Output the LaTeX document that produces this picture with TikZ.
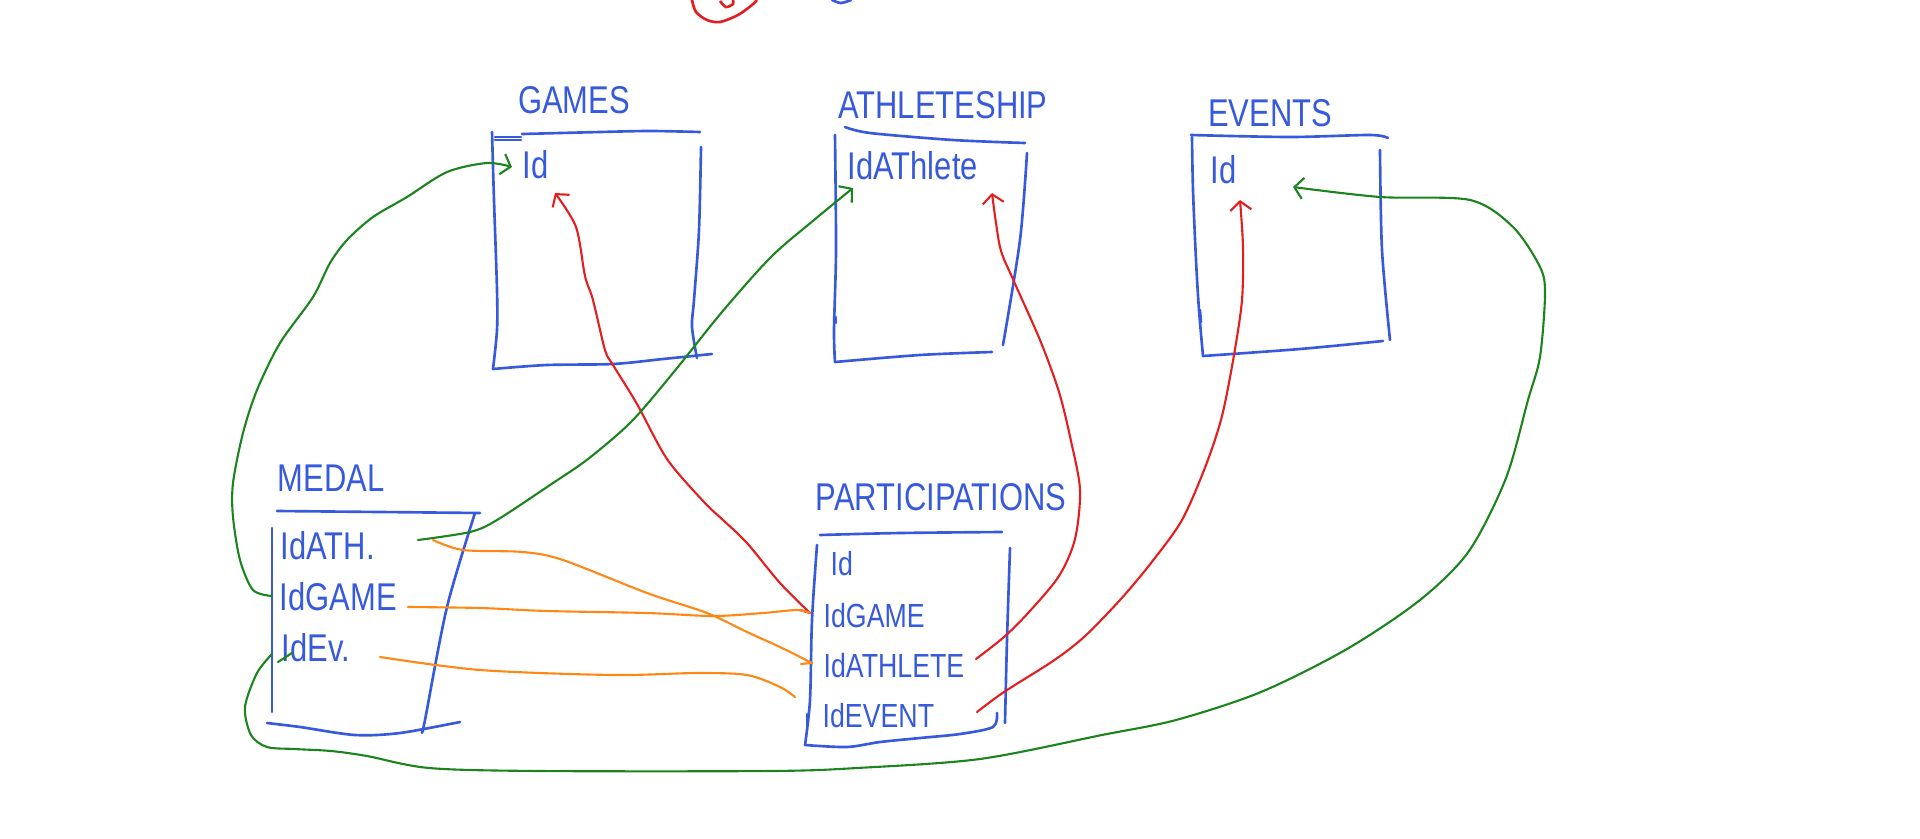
\documentclass[tikz,border=0pt]{standalone}
\usepackage{fontspec}
\setmainfont[FakeStretch=0.8]{Liberation Sans}
\usetikzlibrary{arrows.meta}
\usetikzlibrary{calc}
\definecolor{penblue}{RGB}{55,90,220}
\definecolor{penred}{RGB}{228,30,30}
\definecolor{pengreen}{RGB}{28,132,28}
\definecolor{penorange}{RGB}{255,136,20}

\begin{document}
\begin{tikzpicture}[x=0.01cm,y=-0.01cm,
    ink/.style={penblue, line width=0.75pt, line cap=round, line join=round},
    title/.style={penblue, font=\fontsize{11}{11}\selectfont},
    field/.style={penblue, anchor=west, inner sep=0pt, font=\fontsize{11}{11}\selectfont},
    smallfield/.style={field, font=\fontsize{9.5}{9.5}\selectfont},
    fk/.style={line width=0.6pt, line cap=round, line join=round},
    tip/.style={-{Straight Barb[length=2.5pt,width=6pt]}}]

\useasboundingbox (0,0) rectangle (1920,839);

\draw[penred, line width=0.75pt] plot[smooth] coordinates {(692,0) (696,12) (707,20) (720,22) (738,15) (752,5) (757,0)};
\draw[penred, line width=0.75pt] plot[smooth] coordinates {(720,1) (726,7) (733,4) (733,0)};
\draw[ink] plot[smooth] coordinates {(832,0) (841,3) (851,0)};

\node[title] (games) at (574,100) {GAMES};
\node[title] (athletes) at (943,105) {ATHLETESHIP};
\node[title] (events) at (1270,113) {EVENTS};
\node[title] (medal) at (331,478) {MEDAL};
\node[title] (part) at (941,497) {PARTICIPATIONS};

\foreach \name/\txt/\pos in {gamesid/Id/{(522,165)}, athlid/IdAThlete/{(847,166)},
    eventsid/Id/{(1210,170)}, medalath/IdATH./{(280,546)},
    medalgame/IdGAME/{(279,597)}, medalev/IdEv./{(281,648)}} {
  \node[field] (\name) at \pos {\txt};
}
\foreach \name/\txt/\pos in {partid/Id/{(830,564)}, partgame/IdGAME/{(823,616)},
    partath/IdATHLETE/{(823,666)}, partev/IdEVENT/{(822,716)}} {
  \node[smallfield] (\name) at \pos {\txt};
}

% games
\draw[ink] plot[smooth] coordinates {(522,134) (600,132) (650,131) (700,132)};
\draw[ink] (495,137) -- (521,137);
\draw[ink] (495,140) -- (521,140);
\draw[ink] plot[smooth] coordinates {(492,132) (494,200) (497,290) (497,330) (493,369)};
\draw[ink] plot[smooth] coordinates {(493,369) (547,365) (613,364) (663,359) (712,354)};
\draw[ink] plot[smooth] coordinates {(701,147) (699,230) (694,300) (692,327) (697,358)};

% athleteship
\draw[ink] plot[smooth] coordinates {(845,127) (870,133) (953,140) (1025,143)};
\draw[ink] plot[smooth] coordinates {(835,135) (836,250) (834,330) (835,362)};
\draw[ink] plot[smooth] coordinates {(835,362) (920,355) (992,352)};
\draw[ink] plot[smooth] coordinates {(1027,153) (1020,240) (1003,345)};
\draw[ink] (836,317) -- (836,323);

% events
\draw[ink] plot[smooth] coordinates {(1191,135) (1290,137) (1370,135) (1388,138)};
\draw[ink] plot[smooth] coordinates {(1192,137) (1193,190) (1196,260) (1199,310) (1203,356)};
\draw[ink] plot[smooth] coordinates {(1203,356) (1300,349) (1383,341)};
\draw[ink] plot[smooth] coordinates {(1380,150) (1382,250) (1390,340)};
\draw[ink] (1200,310) -- (1201,322);

% medal
\draw[ink] plot[smooth] coordinates {(277,511) (380,512) (480,513)};
\draw[ink] (272,528) -- (272,712);
\draw[ink] plot[smooth] coordinates {(475,513) (447,607) (425,720) (422,732)};
\draw[ink] plot[smooth] coordinates {(267,723) (300,727) (355,735) (400,733) (460,722)};

% participations
\draw[ink] plot[smooth] coordinates {(820,535) (900,533) (1002,532)};
\draw[ink] plot[smooth] coordinates {(817,545) (812,620) (810,700) (805,745)};
\draw[ink] plot[smooth] coordinates {(805,745) (847,747) (880,742) (920,738) (960,734) (993,727) (997,713)};
\draw[ink] plot[smooth] coordinates {(1010,548) (1007,640) (1005,723)};
\draw[ink] (807,714) -- (807,728);

\coordinate (r1s) at ($(partgame.west)+(-13,-3)$);
\coordinate (r1e) at ($(gamesid.west)+(33,28)$);
\coordinate (r2s) at ($(partath.west)+(153,-7)$);
\coordinate (r2e) at ($(athlid.west)+(145,27)$);
\coordinate (r3s) at ($(partev.west)+(155,-4)$);
\coordinate (r3e) at ($(eventsid.west)+(30,30)$);
\coordinate (g1s) at ($(medalgame.west)+(-7,-1)$);
\coordinate (g1e) at ($(gamesid.west)+(-10,2)$);
\coordinate (g2s) at ($(medalath.west)+(138,-6)$);
\coordinate (g2e) at ($(athlid.west)+(6,22)$);
\coordinate (g3s) at ($(medalev.west)+(-9,6)$);
\coordinate (g3e) at ($(eventsid.west)+(83,17)$);
\coordinate (o1s) at ($(medalath.west)+(153,-6)$);
\coordinate (o1e) at ($(partath.west)+(-11,-3)$);
\coordinate (o2s) at ($(medalgame.west)+(129,10)$);
\coordinate (o2e) at ($(partgame.west)+(-13,-3)$);
\coordinate (o3s) at ($(medalev.west)+(99,9)$);
\coordinate (o3e) at ($(partev.west)+(-27,-19)$);

\draw[fk, penred, tip] plot[smooth] coordinates {(r1s) (780,583) (747,543) (723,520) (704,502) (667,459) (637,404) (613,365) (605,350) (593,300) (585,276) (576,227) (r1e)};
\draw[fk, penred] (r1s) -- ++(-10,-3);
\draw[fk, penred, tip] plot[smooth] coordinates {(r2s) (1004,637) (1029,612) (1059,576) (1075,539) (1080,490) (1071,441) (1059,392) (1040,340) (1012,277) (1000,247) (r2e)};
\draw[fk, penred, tip] plot[smooth] coordinates {(r3s) (1004,692) (1053,661) (1084,637) (1120,600) (1151,563) (1182,520) (1206,465) (1222,416) (1234,355) (1242,300) (1243,247) (r3e)};

\draw[fk, pengreen, tip] plot[smooth] coordinates {(g1s) (253,590) (240,560) (233,517) (233,483) (243,433) (257,390) (280,343) (313,297) (330,263) (347,240) (373,217) (407,197) (447,172) (487,163) (g1e)};
\draw[fk, pengreen, tip] plot[smooth] coordinates {(g2s) (470,532) (497,520) (553,483) (588,459) (631,422) (673,373) (722,312) (771,257) (814,220) (g2e)};
\draw[fk, pengreen, tip] plot[smooth] coordinates {(g3s) (257,673) (245,707) (251,735) (267,747) (294,749) (331,751) (367,756) (429,768) (539,771) (771,771) (857,768) (980,759) (1102,735) (1176,720) (1261,692) (1347,649) (1420,600) (1469,551) (1506,478) (1528,400) (1540,357) (1545,294) (1540,267) (1513,227) (1470,200) (1380,197) (g3e)};
\draw[fk, pengreen] ($(medalev.west)+(-3,14)$) -- ($(medalev.west)+(11,5)$);

\draw[fk, penorange] plot[smooth] coordinates {(o1s) (463,550) (523,552) (563,560) (647,593) (707,613) (747,632) (780,647) (o1e)};
\draw[fk, penorange] (o1e) -- ++(-11,1);
\draw[fk, penorange] plot[smooth] coordinates {(o2s) (480,608) (547,611) (647,613) (713,616) (763,613) (797,610) (o2e)};
\draw[fk, penorange] plot[smooth] coordinates {(o3s) (480,670) (613,675) (697,673) (747,675) (780,687) (o3e)};

\end{tikzpicture}
\end{document}
